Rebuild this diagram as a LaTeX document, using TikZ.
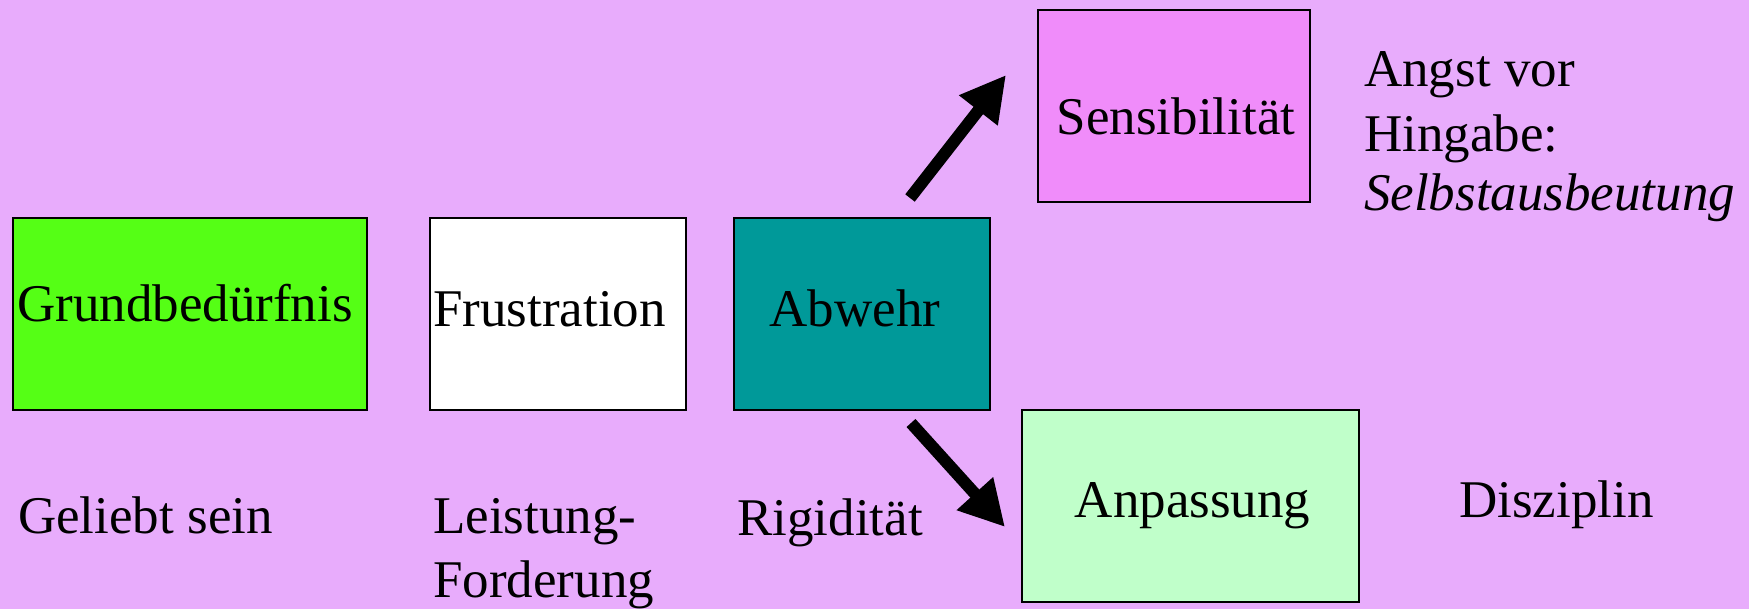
\documentclass[tikz,border=0pt]{standalone}
\usepackage{fontspec}
\setmainfont{Liberation Serif}
\usetikzlibrary{arrows.meta}
\definecolor{bg}{RGB}{232,172,252}
\definecolor{cgreen}{RGB}{85,255,21}
\definecolor{cteal}{RGB}{0,153,153}
\definecolor{cpink}{RGB}{240,140,250}
\definecolor{clight}{RGB}{192,255,202}
\begin{document}
\begin{tikzpicture}[x=1pt,y=-1pt,
  box/.style={draw=black,line width=2pt,inner sep=0pt,text depth=0pt,minimum height=192pt,font=\fontsize{53}{61}\selectfont},
  lbl/.style={anchor=base west,inner sep=0pt,font=\fontsize{53}{61}\selectfont},
  arr/.style={line width=12pt,-{Triangle[length=45pt,width=46pt]}}]
\fill[bg] (0,0) rectangle (1749,609);
\useasboundingbox (0,0) rectangle (1749,609);
\node[box,fill=cgreen,minimum width=354pt,text height=16pt] (g) at (190,314) {\hspace*{-10pt}Grundbedürfnis};
\node[box,fill=white,minimum width=256pt,text height=26pt] (f) at (558,314) {\hspace*{-17pt}Frustration};
\node[box,fill=cteal,minimum width=256pt,text height=26pt] (a) at (862,314) {\hspace*{-14pt}Abwehr};
\node[box,fill=cpink,minimum width=272pt,text height=58pt] (s) at (1174,106) {\hspace*{4pt}Sensibilität};
\node[box,fill=clight,minimum width=337pt,text height=24pt] (p) at (1190.5,506) {\hspace*{4pt}Anpassung};
\node[lbl] (l1) at (18,533) {Geliebt sein};
\node[lbl] (l2) at (433,533) {Leistung-};
\node[lbl] (l3) at (433,597) {Forderung};
\node[lbl] (l4) at (737,535) {Rigidität};
\node[lbl] (l5) at (1459,518) {Disziplin};
\node[lbl] (r1) at (1364,87) {Angst vor};
\node[lbl] (r2) at (1364,152) {Hingabe:};
\node[lbl] (r3) at (1364,211) {\itshape Selbstausbeutung};
\draw[arr] ([xshift=48pt,yshift=19pt]a.north) -- ([xshift=-31pt,yshift=31pt]s.west);
\draw[arr] ([xshift=49pt,yshift=-12pt]a.south) -- ([xshift=-16pt,yshift=-21pt]p.west);
\end{tikzpicture}
\end{document}
